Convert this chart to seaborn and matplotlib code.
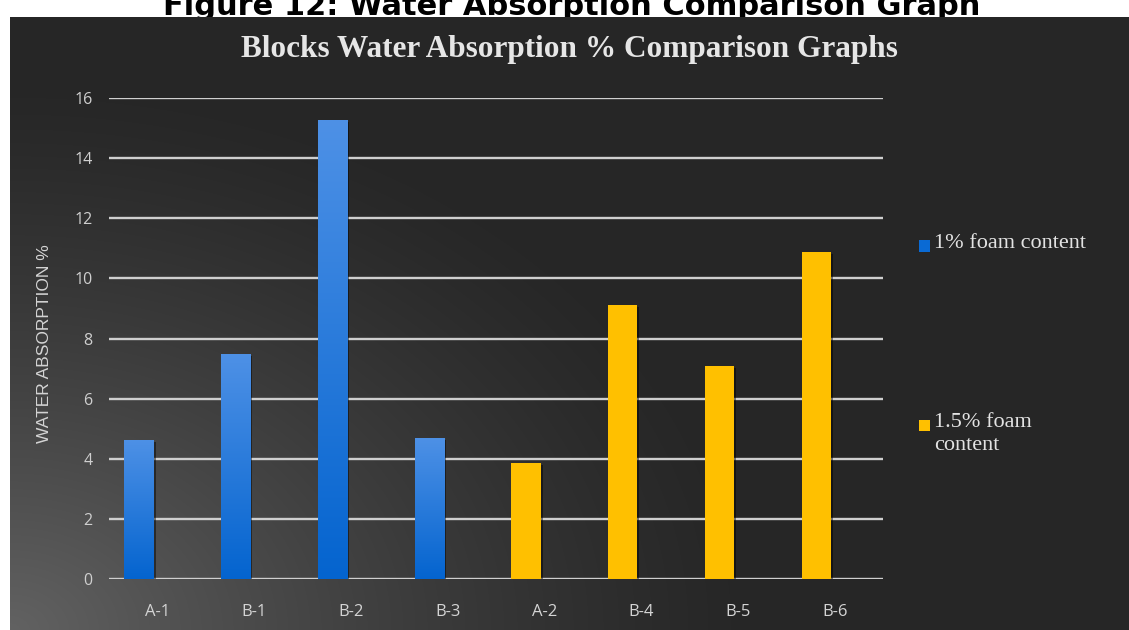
import numpy as np
import pandas as pd
import matplotlib
matplotlib.use("Agg")
import matplotlib.pyplot as plt
import matplotlib.patheffects as pe
from matplotlib.patches import Rectangle
import seaborn as sns

# ---- data -------------------------------------------------------------
blocks = ["A-1", "B-1", "B-2", "B-3", "A-2", "B-4", "B-5", "B-6"]
absorption = [4.63, 7.49, 15.26, 4.71, 3.86, 9.12, 7.09, 10.87]
foam = ["1% foam content"] * 4 + ["1.5% foam content"] * 4
series_names = ["1% foam content", "1.5% foam content"]
legend_labels = ["1% foam content", "1.5% foam\ncontent"]
y_ticks = [0, 2, 4, 6, 8, 10, 12, 14, 16]

series_colors = {"1% foam content": "#0a6ad4", "1.5% foam content": "#ffc000"}

df = pd.DataFrame({"block": blocks, "absorption": absorption, "foam": foam})

# ---- figure -----------------------------------------------------------
sns.set_theme(style="dark")
plt.rcParams["font.family"] = ["DejaVu Sans"]

W, H = 1129, 630
fig = plt.figure(figsize=(W / 100, H / 100), dpi=100, facecolor="white")

# caption above the dark panel (partly hidden by it)
fig.text(572 / W, 1 - 15 / H, "Figure 12: Water Absorption Comparison Graph",
         ha="center", va="baseline", fontsize=22, fontweight="bold",
         family=["DejaVu Sans"], color="black", zorder=0)

# dark panel with a soft glow from the lower-left corner
px0, py0 = 10, 17
bg = fig.add_axes([px0 / W, 0, 1 - px0 / W, (H - py0) / H], zorder=1)
ph, pw = H - py0, W - px0
yy, xx = np.mgrid[0:ph, 0:pw]
r = np.hypot(xx * 0.85, (ph - yy) * 1.15)
f = np.clip(1 - r / 640, 0, 1) ** 1.3
dark, light = 0x26 / 255, 0x62 / 255
g = dark + (light - dark) * f
bg.imshow(np.dstack([g, g, g]), aspect="auto", extent=[0, 1, 0, 1], interpolation="bilinear")
bg.set_axis_off()

# chart title
fig.text(569 / W, 1 - 57 / H, "Blocks Water Absorption % Comparison Graphs",
         ha="center", va="baseline", fontsize=22.5, fontweight="bold",
         family=["Liberation Serif"], color="#e6e6e6", zorder=3)

# plot area
ax_l, ax_r, ax_t, ax_b = 109, 883, 97.8, 579.4
ax = fig.add_axes([ax_l / W, (H - ax_b) / H, (ax_r - ax_l) / W, (ax_b - ax_t) / H], zorder=2)
ax.patch.set_alpha(0)

sns.barplot(data=df, x="block", y="absorption", hue="foam", hue_order=series_names,
            palette=series_colors, dodge=False, width=0.30, ax=ax, legend=False,
            saturation=1, linewidth=0, errorbar=None)

# bars sit slightly left of their category label
bars = [p for p in ax.patches if p.get_height() > 0]
for p in bars:
    p.set_x(p.get_x() - 0.19)
    p.set_path_effects([pe.SimplePatchShadow(offset=(1.5, -1.5), shadow_rgbFace="black", alpha=0.45),
                        pe.Normal()])

# vertical shading on the blue bars
blue_grad = np.linspace(0, 1, 256)[:, None]
top_c = np.array([0x4e, 0x91, 0xe6]) / 255
bot_c = np.array([0x04, 0x64, 0xcf]) / 255
grad_img = top_c * (1 - blue_grad[..., None]) + bot_c * blue_grad[..., None]
blue_rgba = matplotlib.colors.to_rgba(series_colors["1% foam content"])
for p in bars:
    if np.allclose(p.get_facecolor(), blue_rgba, atol=0.01):
        x0, w, h = p.get_x(), p.get_width(), p.get_height()
        im = ax.imshow(grad_img, extent=[x0, x0 + w, 0, h], aspect="auto",
                       origin="upper", zorder=p.get_zorder() + 0.1, interpolation="bilinear")
        im.set_clip_path(p)

ax.set_xlim(-0.5, len(blocks) - 0.5)
ax.set_ylim(0, 16)
ax.set_yticks(y_ticks)
ax.set_yticklabels([str(t) for t in y_ticks])
ax.yaxis.grid(True, color="#cfcfcf", linewidth=1.7)
ax.xaxis.grid(False)
ax.set_axisbelow(True)
for s in ax.spines.values():
    s.set_visible(False)

ax.tick_params(axis="y", length=0, pad=12, labelsize=11.5, labelcolor="#cfcfcf")
ax.tick_params(axis="x", length=0, pad=18, labelsize=12, labelcolor="#d4d4d4")
for lab in ax.get_xticklabels() + ax.get_yticklabels():
    lab.set_family(["Open Sans"])

ax.set_xlabel("")
ax.set_ylabel("WATER ABSORPTION %", fontsize=12.5, color="#d4d4d4", family=["Liberation Sans"])
ax.yaxis.set_label_coords(-0.074, 0.49)

# legend entries
legend_pos = [246, 425]
for name, label, yc in zip(series_names, legend_labels, legend_pos):
    sq = 11
    fig.patches.append(Rectangle((919 / W, 1 - (yc + sq / 2) / H), sq / W, sq / H,
                                 transform=fig.transFigure, facecolor=series_colors[name],
                                 edgecolor="none", zorder=3))
    fig.text(934 / W, 1 - (yc - 12) / H, label, ha="left", va="top", fontsize=16,
             family=["Liberation Serif"], color="#e3e3e3", linespacing=1.3, zorder=3)

fig.savefig("out.png", dpi=100, facecolor="white")
